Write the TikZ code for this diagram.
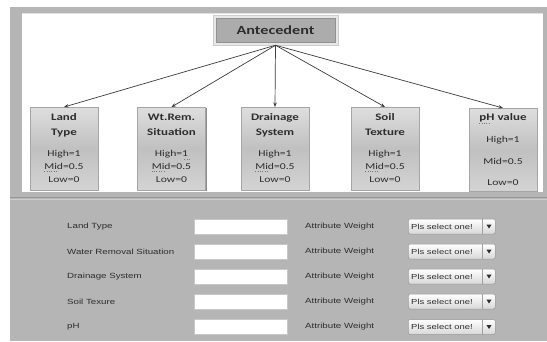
\documentclass[tikz,border=0pt]{standalone}
\usepackage{fontspec}
\setmainfont{Carlito}
\newfontfamily\boxfont[FakeStretch=1.3]{Carlito}
\newfontfamily\formfont[FakeStretch=1.3]{Liberation Sans}
\usetikzlibrary{arrows.meta,shadows}
\definecolor{panel}{RGB}{181,181,181}
\definecolor{panelline}{RGB}{150,150,150}
\definecolor{panellight}{RGB}{205,205,205}
\definecolor{topline}{RGB}{225,225,225}
\definecolor{anttop}{RGB}{232,232,232}
\definecolor{antborder}{RGB}{205,205,205}
\definecolor{antfill}{RGB}{172,172,172}
\definecolor{antinner}{RGB}{145,145,145}
\definecolor{boxtop}{RGB}{222,222,222}
\definecolor{boxmid}{RGB}{192,192,192}
\definecolor{boxbot}{RGB}{212,212,212}
\definecolor{boxborder}{RGB}{165,165,165}
\definecolor{arrowcol}{RGB}{60,60,60}
\definecolor{txt}{RGB}{45,45,45}
\definecolor{fieldborder}{RGB}{200,200,200}
\definecolor{dropborder}{RGB}{150,150,150}
\definecolor{dropbot}{RGB}{215,215,215}
\definecolor{dropsep}{RGB}{160,160,160}
\definecolor{squigcol}{RGB}{120,120,120}
\tikzset{
  attrbox/.style={draw=boxborder, line width=0.5bp,
    top color=boxtop, bottom color=boxbot, middle color=boxmid,
    minimum width=68bp, minimum height=83bp, inner sep=0pt, anchor=north,
    drop shadow={shadow xshift=1bp, shadow yshift=-1.2bp, opacity=0.45, fill=black}},
  ttl/.style={font=\boxfont\bfseries\fontsize{10}{12}\selectfont, text=txt, anchor=mid, inner sep=0pt},
  val/.style={font=\boxfont\fontsize{9}{11}\selectfont, text=txt, anchor=mid, inner sep=0pt},
  conn/.style={draw=arrowcol, line width=0.7bp, -{Stealth[length=4.5bp,width=3.5bp]}},
  flabel/.style={font=\formfont\fontsize{7.5}{9}\selectfont, text=txt, anchor=west, inner sep=0pt},
  field/.style={fill=white, draw=fieldborder, line width=0.4bp,
    minimum width=93bp, minimum height=15bp, inner sep=0pt, anchor=west},
  drop/.style={draw=dropborder, line width=0.5bp, rounded corners=2bp,
    top color=white, bottom color=dropbot,
    minimum width=87bp, minimum height=15bp, inner sep=0pt, anchor=west},
  squig/.style={draw=squigcol, line width=0.4bp, dotted}
}
\begin{document}
\begin{tikzpicture}[x=1bp,y=-1bp]
\useasboundingbox (0,0) rectangle (547,341);
\fill[white] (0,0) rectangle (547,341);
% top frame
\fill[panel] (10,7) rectangle (547,341);
\fill[white] (22,13) rectangle (543,192);
\draw[topline, line width=0.8bp] (22,13.5) -- (543,13.5);
% separator
\draw[panelline, line width=1bp] (10,197.5) -- (547,197.5);
\draw[panellight, line width=0.8bp] (10,199) -- (547,199);

% Antecedent
\node[fill=anttop, draw=antborder, line width=0.5bp,
  minimum width=125bp, minimum height=30bp, inner sep=0pt] (antouter) at (275.5,30) {};
\node[fill=antfill, draw=antinner, line width=0.5bp,
  minimum width=119bp, minimum height=24bp, inner sep=0pt,
  font=\boxfont\bfseries\fontsize{12.5}{14}\selectfont, text=txt] (ant) at (275.5,30) {Antecedent};

% attribute boxes
\node[attrbox] (b1) at (64,107) {};
\node[attrbox] (b2) at (171.5,107) {};
\node[attrbox] (b3) at (275,107) {};
\node[attrbox] (b4) at (385,107) {};
\node[attrbox] (b5) at (503,108) {};

\foreach \n in {b1,b2,b3,b4,b5}{\draw[conn] (antouter.south) -- (\n.north);}

% box 1
\node[ttl] (b1t1) at (64,118) {Land};
\node[ttl] (b1t2) at (64,133) {Type};
\node[val] (b1h) at (64,154) {High=1};
\node[val] (b1m) at (64,167) {Mid=0.5};
\node[val] (b1l) at (64,180) {Low=0};
% box 2
\node[ttl] (b2t1) at (171.5,118) {Wt.Rem.};
\node[ttl] (b2t2) at (171.5,133) {Situation};
\node[val] (b2h) at (171.5,154) {High=1};
\node[val] (b2m) at (171.5,167) {Mid=0.5};
\node[val] (b2l) at (171.5,180) {Low=0};
% box 3
\node[ttl] (b3t1) at (275,118) {Drainage};
\node[ttl] (b3t2) at (275,133) {System};
\node[val] (b3h) at (275,154) {High=1};
\node[val] (b3m) at (275,167) {Mid=0.5};
\node[val] (b3l) at (275,180) {Low=0};
% box 4
\node[ttl] (b4t1) at (385,118) {Soil};
\node[ttl] (b4t2) at (385,133) {Texture};
\node[val] (b4h) at (385,154) {High=1};
\node[val] (b4m) at (385,167) {Mid=0.5};
\node[val] (b4l) at (385,180) {Low=0};
% box 5
\node[ttl] (b5t1) at (503,118) {pH value};
\node[val] (b5h) at (503,140) {High=1};
\node[val] (b5m) at (503,162) {Mid=0.5};
\node[val] (b5l) at (503,183) {Low=0};

% spell-check squiggles
\draw[squig] (b1m.south west) ++(0,1.5) -- ++(14,0);
\draw[squig] (b2m.south west) ++(0,1.5) -- ++(14,0);
\draw[squig] (b2h.south east) ++(-4,1.5) -- ++(5,0);
\draw[squig] (b3m.south west) ++(0,1.5) -- ++(14,0);
\draw[squig] (b4m.south west) ++(0,1.5) -- ++(14,0);
\draw[squig] (b5t1.south west) ++(0,1) -- ++(11,0);

% form rows
\foreach \i/\y/\lab in {1/226.5/Land Type, 2/251.5/Water Removal Situation, 3/276.5/Drainage System, 4/301.5/Soil Texure, 5/327/pH}{
  \node[flabel] (lab\i) at (67,\y) {\lab};
  \node[field] (fld\i) at (194,\y) {};
  \node[flabel] (aw\i) at (305,\y) {Attribute Weight};
  \node[drop] (dd\i) at (408,\y) {};
  \node[flabel, font=\formfont\fontsize{7.3}{9}\selectfont] (ddt\i) at (411,\y) {Pls select one!};
  \draw[dropsep, line width=0.5bp] ([xshift=-13bp]dd\i.north east) -- ([xshift=-13bp]dd\i.south east);
  \fill[txt] ([xshift=-9bp,yshift=1.8bp]dd\i.east) -- ([xshift=-4bp,yshift=1.8bp]dd\i.east) -- ([xshift=-6.5bp,yshift=-2bp]dd\i.east) -- cycle;
}
\end{tikzpicture}
\end{document}
